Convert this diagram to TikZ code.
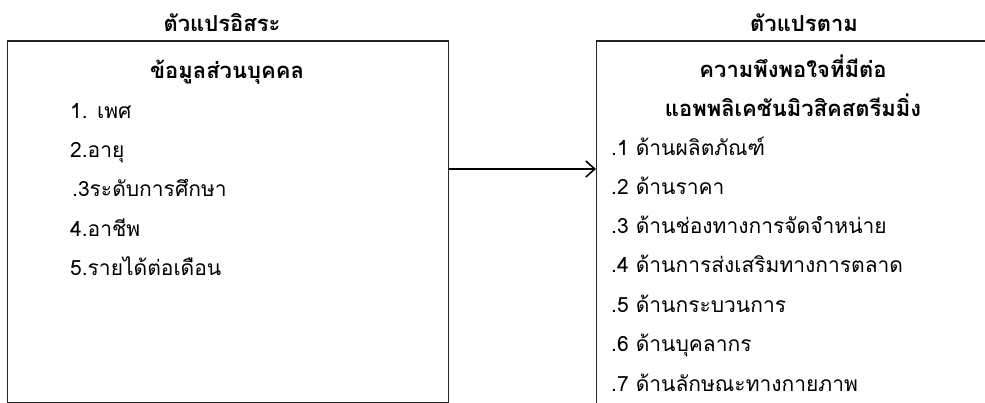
\documentclass[tikz,border=0pt]{standalone}
\usepackage{fontspec}
\setmainfont[Script=Thai]{Loma}
\usetikzlibrary{arrows.meta}
\begin{document}
\begin{tikzpicture}[x=1pt,y=-1pt,
  box/.style={draw=black!85, line width=1.4pt, inner sep=0pt, anchor=north west},
  ttl/.style={font=\fontsize{22}{24}\selectfont\bfseries, inner sep=0pt, anchor=base},
  itm/.style={font=\fontsize{21}{24}\selectfont, inner sep=0pt, anchor=base west},
  arr/.style={line width=1.6pt, -{Straight Barb[length=9pt,width=16pt,line width=1.6pt]}}]
\useasboundingbox (0,0) rectangle (985,403);
\clip (0,0) rectangle (985,403);
\fill[white] (0,0) rectangle (985,403);
% titles
\node[ttl] (t1) at (222,32) {ตัวแปรอิสระ};
\node[ttl] (t2) at (804,32) {ตัวแปรตาม};
% boxes
\node[box, minimum width=441pt, minimum height=361pt] (L) at (7,40.5) {};
\node[box, minimum width=420pt, minimum height=400pt] (R) at (596,40.5) {};
% left content
\node[ttl] (lh) at (227,79) {ข้อมูลส่วนบุคคล};
\node[itm] (l1) at (70,119) {1. เพศ};
\node[itm] (l2) at (70,158) {2.อายุ};
\node[itm] (l3) at (72,197) {.3ระดับการศึกษา};
\node[itm] (l4) at (70,236.5) {4.อาชีพ};
\node[itm] (l5) at (70,276) {5.รายได้ต่อเดือน};
% right content
\node[ttl] (rh1) at (793,78) {ความพึงพอใจที่มีต่อ};
\node[ttl] (rh2) at (793,117) {แอพพลิเคชันมิวสิคสตรีมมิ่ง};
\node[itm] (r1) at (611,156) {.1 ด้านผลิตภัณฑ์};
\node[itm] (r2) at (611,195) {.2 ด้านราคา};
\node[itm] (r3) at (611,234) {.3 ด้านช่องทางการจัดจำหน่าย};
\node[itm] (r4) at (611,273) {.4 ด้านการส่งเสริมทางการตลาด};
\node[itm] (r5) at (611,312.5) {.5 ด้านกระบวนการ};
\node[itm] (r6) at (611,351.5) {.6 ด้านบุคลากร};
\node[itm] (r7) at (611,391) {.7 ด้านลักษณะทางกายภาพ};
% arrow
\draw[arr] ([yshift=-128.5pt]L.north east) -- ([yshift=-128.5pt]R.north west);
\end{tikzpicture}
\end{document}
